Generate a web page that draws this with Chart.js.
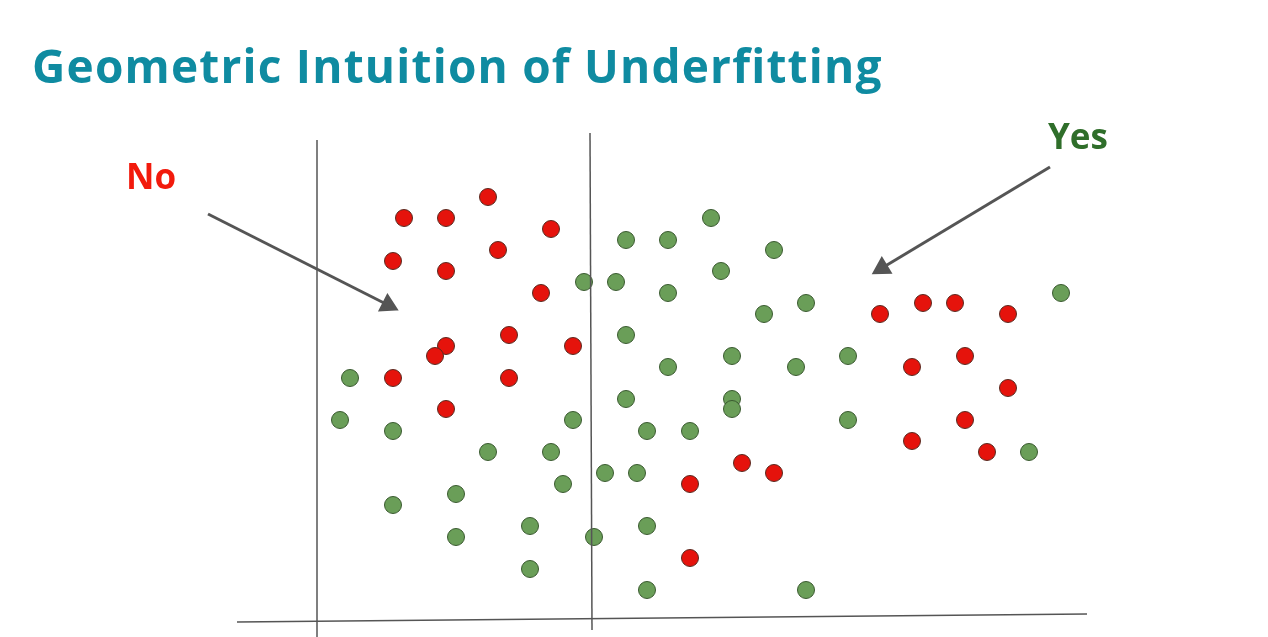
<!DOCTYPE html>
<html><head><meta charset="utf-8">
<script src="https://cdn.jsdelivr.net/npm/chart.js@4/dist/chart.umd.min.js"></script>
<style>
html,body{margin:0;padding:0;background:#fff;overflow:hidden}
#wrap{position:relative;width:1268px;height:637px}
canvas{position:absolute;left:0;top:0}
.t{position:absolute;font-family:"Open Sans",Lato,sans-serif;font-weight:700;white-space:nowrap}
</style></head><body>
<div id="wrap">
<canvas id="c" width="1268" height="637"></canvas>
<div class="t" style="left:32px;top:34px;font-size:46px;color:#0f8ba1;letter-spacing:1.2px">Geometric Intuition of Underfitting</div>
<div class="t" style="left:126px;top:152px;font-size:35px;color:#f21a0c">No</div>
<div class="t" style="left:1048px;top:112px;font-size:35px;color:#2f6e2a">Yes</div>
</div>
<script>
var redPoints = [[404,218],[446,218],[488,197],[551,229],[393,261],[446,271],[498,250],[541,293],
  [446,346],[435,356],[509,335],[573,346],[393,378],[509,378],[446,409],[880,314],[923,303],
  [955,303],[1008,314],[912,367],[965,356],[1008,388],[912,441],[965,420],[987,452],[742,463],
  [774,473],[690,484],[690,558]];
var greenPoints = [[626,240],[668,240],[711,218],[774,250],[584,282],[616,282],[668,293],[721,271],
  [764,314],[806,303],[626,335],[668,367],[732,356],[796,367],[848,356],[350,378],[340,420],
  [393,431],[573,420],[626,399],[647,431],[690,431],[732,399],[732,409],[848,420],[488,452],
  [551,452],[563,484],[605,473],[637,473],[393,505],[456,494],[456,537],[530,526],[594,537],
  [647,526],[530,569],[647,590],[806,590],[1029,452],[1061,293]];
var axisLines = [
  [[317,140],[317,637]],
  [[590,133],[592,630]],
  [[237,622],[1087,614]]
];
var arrows = [
  {from:[208,214], to:[388,305], rot:117},
  {from:[1050,167], to:[882,268], rot:239}
];

function pts(a){ return a.map(function(p){ return {x:p[0], y:p[1]}; }); }

var datasets = [];
axisLines.forEach(function(l){
  datasets.push({type:'line', data:pts(l), borderColor:'#555', borderWidth:1.5, pointRadius:0});
});
arrows.forEach(function(a){
  datasets.push({type:'line', data:pts([a.from,a.to]), borderColor:'#555', borderWidth:3,
    pointRadius:[0,9], pointStyle:'triangle', rotation:a.rot,
    pointBackgroundColor:'#555', pointBorderColor:'#555'});
});
datasets.push({type:'scatter', data:pts(redPoints), backgroundColor:'#e5130c', borderColor:'#5a2a20',
  borderWidth:1, pointRadius:8.5});
datasets.push({type:'scatter', data:pts(greenPoints), backgroundColor:'#6a9e58', borderColor:'#3a5a30',
  borderWidth:1, pointRadius:8.5});

new Chart(document.getElementById('c'), {
  type:'scatter',
  data:{datasets:datasets},
  options:{
    responsive:false, animation:false,
    layout:{padding:0, autoPadding:false},
    plugins:{legend:{display:false}, tooltip:{enabled:false}},
    scales:{
      x:{type:'linear', min:0, max:1268, display:false},
      y:{type:'linear', min:0, max:637, reverse:true, display:false}
    }
  }
});
</script>
</body></html>
